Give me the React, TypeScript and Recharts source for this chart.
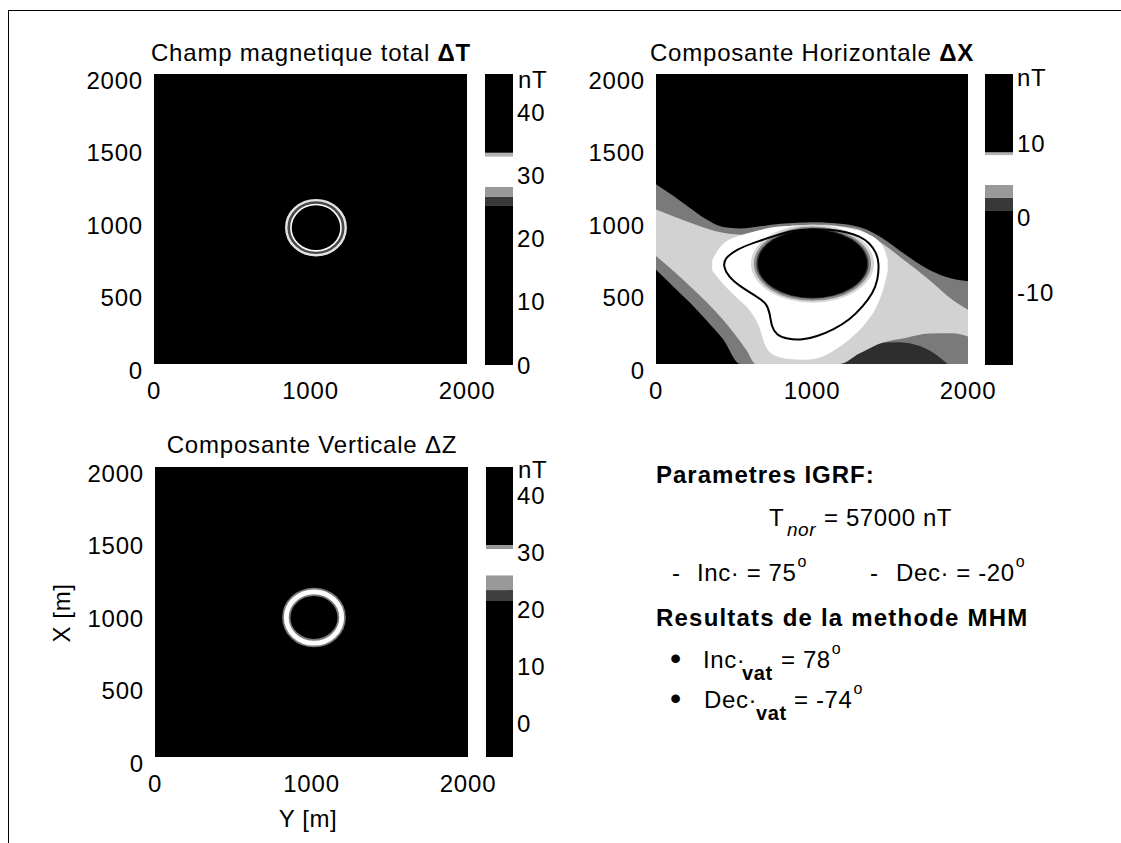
import React from 'react';
import { ComposedChart, XAxis, YAxis, CartesianGrid, Area, Line, Scatter } from 'recharts';

const FONT = '"Liberation Sans", Arial, Helvetica, sans-serif';

// axis ticks (metres)
const yTicks = [0, 500, 1000, 1500, 2000];
const xTicks = [0, 1000, 2000];

// colour bar ticks (nT)
const cbTicksT = [0, 10, 20, 30, 40];
const cbTicksX = [-10, 0, 10];
const cbTicksZ = [0, 10, 20, 30, 40];

// colour bar domains (nT)
const cbDomainT = [-0.95, 45.2];
const cbDomainX = [-20.6, 18.5];
const cbDomainZ = [-7, 43.9];

// colour map bands: from/to in nT, level = grey intensity 0..1
const cbBandsT = [
  { from: -0.95, to: 24.4, level: 0 },
  { from: 24.4, to: 25.7, level: 0.22 },
  { from: 25.7, to: 27.3, level: 0.6 },
  { from: 27.3, to: 32.1, level: 1 },
  { from: 32.1, to: 32.7, level: 0.7 },
  { from: 32.7, to: 45.2, level: 0 },
];
const cbBandsX = [
  { from: -20.6, to: 0.2, level: 0 },
  { from: 0.2, to: 1.9, level: 0.22 },
  { from: 1.9, to: 3.6, level: 0.6 },
  { from: 3.6, to: 7.6, level: 1 },
  { from: 7.6, to: 8.0, level: 0.7 },
  { from: 8.0, to: 18.5, level: 0 },
];
const cbBandsZ = [
  { from: -7, to: 20.5, level: 0 },
  { from: 20.5, to: 22.3, level: 0.25 },
  { from: 22.3, to: 24.9, level: 0.6 },
  { from: 24.9, to: 29.5, level: 1 },
  { from: 29.5, to: 30.2, level: 0.6 },
  { from: 30.2, to: 43.9, level: 0 },
];

// anomaly rings (centre and radii in metres)
const ringT = [{ x: 1035, y: 940, r1: 160, r2: 190 }];
const ringZ = [{ x: 1016, y: 962, r1: 160, r2: 194 }];

// Delta X map: zones, ranges [low, high] in metres
const haloOuterX = [
  { x: 0, r: [650, 1240] },
  { x: 110, r: [535, 1160] },
  { x: 220, r: [420, 1075] },
  { x: 320, r: [305, 1000] },
  { x: 430, r: [170, 945] },
  { x: 540, r: [0, 935] },
  { x: 600, r: [0, 940] },
  { x: 800, r: [0, 968] },
  { x: 1000, r: [0, 978] },
  { x: 1200, r: [0, 965] },
  { x: 1350, r: [0, 927] },
  { x: 1480, r: [0, 847] },
  { x: 1600, r: [0, 754] },
  { x: 1730, r: [0, 662] },
  { x: 1860, r: [0, 600] },
  { x: 2000, r: [0, 570] },
];
const darkPatchX = [
  { x: 1150, r: [0, 0] },
  { x: 1250, r: [0, 90] },
  { x: 1400, r: [0, 140] },
  { x: 1550, r: [0, 150] },
  { x: 1700, r: [0, 120] },
  { x: 1800, r: [0, 60] },
  { x: 1870, r: [0, 0] },
];
const haloMidX = [
  { x: 0, r: [745, 1065] },
  { x: 220, r: [535, 975] },
  { x: 430, r: [305, 905] },
  { x: 580, r: [95, 890] },
  { x: 640, r: [0, 890] },
  { x: 880, r: [0, 955] },
  { x: 1090, r: [0, 960] },
  { x: 1180, r: [0, 950] },
  { x: 1300, r: [70, 927] },
  { x: 1460, r: [150, 824] },
  { x: 1600, r: [180, 708] },
  { x: 1750, r: [210, 581] },
  { x: 1900, r: [212, 443] },
  { x: 2000, r: [190, 374] },
];
const whiteCoreX = [
  { x: 360, r: [645, 715] },
  { x: 400, r: [590, 790] },
  { x: 450, r: [530, 845] },
  { x: 520, r: [455, 880] },
  { x: 600, r: [370, 905] },
  { x: 660, r: [260, 922] },
  { x: 700, r: [130, 932] },
  { x: 760, r: [60, 945] },
  { x: 850, r: [35, 952] },
  { x: 950, r: [30, 955] },
  { x: 1050, r: [45, 955] },
  { x: 1150, r: [100, 950] },
  { x: 1250, r: [180, 932] },
  { x: 1350, r: [290, 900] },
  { x: 1420, r: [410, 855] },
  { x: 1460, r: [530, 800] },
  { x: 1485, r: [640, 720] },
];
// negative core of Delta X (centre + semi axes, metres)
const ovalX = [{ x: 1003, y: 692, a: 350, b: 235 }];
// zero contour of Delta X
const contourX = [
  { x: 1007, y: 932 }, { x: 879, y: 923 }, { x: 751, y: 881 }, { x: 623, y: 835 },
  { x: 516, y: 789 }, { x: 442, y: 731 }, { x: 431, y: 674 }, { x: 463, y: 604 },
  { x: 538, y: 535 }, { x: 644, y: 466 }, { x: 708, y: 420 }, { x: 730, y: 351 },
  { x: 740, y: 258 }, { x: 772, y: 201 }, { x: 837, y: 171 }, { x: 943, y: 166 },
  { x: 1029, y: 189 }, { x: 1135, y: 235 }, { x: 1242, y: 305 }, { x: 1327, y: 397 },
  { x: 1391, y: 489 }, { x: 1423, y: 581 }, { x: 1430, y: 697 }, { x: 1413, y: 766 },
  { x: 1370, y: 835 }, { x: 1306, y: 881 }, { x: 1221, y: 911 }, { x: 1114, y: 927 },
];

type Rect = { x: number; y: number; w: number; h: number };
type Band = { from: number; to: number; level: number };

const plotT: Rect = { x: 154, y: 74, w: 313, h: 290 };
const plotX: Rect = { x: 656, y: 74, w: 312, h: 290 };
const plotZ: Rect = { x: 155, y: 467, w: 313, h: 290 };
const barT: Rect = { x: 485, y: 74, w: 28, h: 291 };
const barX: Rect = { x: 985, y: 74, w: 28, h: 291 };
const barZ: Rect = { x: 486, y: 467, w: 27, h: 290 };

const YW = 70;
const XH = 50;
const MT = 10;
const MR = 40;

const tickFont = { fontFamily: FONT, fontSize: 24, letterSpacing: 0.8, fill: '#000' };

const grey = (level: number) => {
  const v = Math.round(level * 255);
  return `rgb(${v},${v},${v})`;
};

const YTick = (p: any) => (
  <text x={p.x} y={p.y + 6} dy="0.355em" textAnchor="end" {...tickFont}>
    {p.payload.value}
  </text>
);
const XTick = (p: any) => (
  <text x={p.x} y={p.y + 26} dy="0.355em" textAnchor="middle" {...tickFont}>
    {p.payload.value}
  </text>
);
const BarTick = (p: any) => (
  <text x={p.x} y={p.y + 6} dy="0.355em" textAnchor="start" {...tickFont}>
    {p.payload.value}
  </text>
);

function MapPanel({ rect, children }: { rect: Rect; children?: React.ReactNode }) {
  return (
    <div style={{ position: 'absolute', left: rect.x - YW, top: rect.y - MT }}>
      <ComposedChart
        width={rect.w + YW + MR}
        height={rect.h + MT + XH}
        margin={{ top: MT, right: MR, bottom: 0, left: 0 }}
      >
        <CartesianGrid fill="#000" stroke="none" horizontal={false} vertical={false} />
        <XAxis
          type="number"
          dataKey="x"
          domain={[0, 2000]}
          ticks={xTicks}
          interval={0}
          allowDataOverflow
          axisLine={false}
          tickLine={false}
          tickSize={0}
          tickMargin={0}
          height={XH}
          tick={XTick}
        />
        <YAxis
          type="number"
          dataKey="y"
          domain={[0, 2000]}
          ticks={yTicks}
          interval={0}
          allowDataOverflow
          axisLine={false}
          tickLine={false}
          tickSize={0}
          tickMargin={11}
          width={YW}
          tick={YTick}
        />
        {children}
      </ComposedChart>
    </div>
  );
}

function ColorBar({ rect, domain, ticks, bands }: { rect: Rect; domain: number[]; ticks: number[]; bands: Band[] }) {
  return (
    <div style={{ position: 'absolute', left: rect.x, top: rect.y - 10 }}>
      <ComposedChart width={rect.w + 60} height={rect.h + 40} margin={{ top: 10, right: 0, bottom: 30, left: 0 }}>
        <XAxis type="number" dataKey="x" domain={[0, 1]} hide />
        <YAxis
          type="number"
          orientation="right"
          domain={domain}
          ticks={ticks}
          interval={0}
          allowDataOverflow
          axisLine={false}
          tickLine={false}
          tickSize={0}
          tickMargin={4}
          width={60}
          tick={BarTick}
        />
        {bands.map((b, i) => (
          <Area
            key={i}
            data={[
              { x: 0, r: [b.from, b.to] },
              { x: 1, r: [b.from, b.to] },
            ]}
            dataKey="r"
            type="linear"
            stroke="none"
            fill={grey(b.level)}
            fillOpacity={1}
            dot={false}
            activeDot={false}
            isAnimationActive={false}
          />
        ))}
      </ComposedChart>
    </div>
  );
}

const ringShapeT = (rect: Rect) => (p: any) => {
  const kx = rect.w / 2000;
  const ky = rect.h / 2000;
  const { r1, r2 } = p.payload;
  const rm = (r1 + r2) / 2;
  return (
    <g>
      <ellipse cx={p.cx} cy={p.cy} rx={rm * kx} ry={rm * ky} fill="none" stroke="#4a4a4a" strokeWidth={(r2 - r1) * kx} />
      <ellipse cx={p.cx} cy={p.cy} rx={r2 * kx} ry={r2 * ky} fill="none" stroke="#e4e4e4" strokeWidth={2.4} />
      <ellipse cx={p.cx} cy={p.cy} rx={r1 * kx} ry={r1 * ky} fill="none" stroke="#ffffff" strokeWidth={1.6} />
    </g>
  );
};

const ringShapeZ = (rect: Rect) => (p: any) => {
  const kx = rect.w / 2000;
  const ky = rect.h / 2000;
  const { r1, r2 } = p.payload;
  const rm = (r1 + r2) / 2;
  return (
    <g>
      <ellipse cx={p.cx} cy={p.cy} rx={rm * kx} ry={rm * ky} fill="none" stroke="#7a7a7a" strokeWidth={(r2 - r1) * kx + 3} />
      <ellipse cx={p.cx} cy={p.cy} rx={rm * kx} ry={rm * ky} fill="none" stroke="#ffffff" strokeWidth={(r2 - r1) * kx - 0.5} />
    </g>
  );
};

const ovalShape = (rect: Rect) => (p: any) => {
  const kx = rect.w / 2000;
  const ky = rect.h / 2000;
  const rx = p.payload.a * kx;
  const ry = p.payload.b * ky;
  return (
    <g>
      <ellipse cx={p.cx} cy={p.cy} rx={rx + 7} ry={ry + 5} fill="#d6d6d6" />
      <ellipse cx={p.cx} cy={p.cy} rx={rx + 4} ry={ry + 3} fill="#8a8a8a" />
      <ellipse cx={p.cx} cy={p.cy} rx={rx + 1.5} ry={ry + 1} fill="#333" />
      <ellipse cx={p.cx} cy={p.cy} rx={rx} ry={ry} fill="#000" />
    </g>
  );
};

const txt: React.CSSProperties = {
  position: 'absolute',
  fontFamily: FONT,
  fontSize: 24,
  lineHeight: '28px',
  whiteSpace: 'nowrap',
  color: '#000',
  letterSpacing: 0.6,
};

const Title = ({ cx, cy, children }: { cx: number; cy: number; children: React.ReactNode }) => (
  <div style={{ ...txt, left: cx - 250, width: 500, top: cy - 14, textAlign: 'center', letterSpacing: 0.8 }}>{children}</div>
);

const Deg = () => (
  <span style={{ fontSize: 16, position: 'relative', top: -14, marginLeft: 1 }}>o</span>
);

export default function App() {
  return (
    <div style={{ position: 'relative', width: 1121, height: 843, background: '#fff', overflow: 'hidden' }}>
      <style>{`body{margin:0}`}</style>
      <div style={{ position: 'absolute', left: 8, top: 10, width: 1113, height: 833, borderTop: '1.5px solid #000', borderLeft: '1.5px solid #000' }} />

      <Title cx={311} cy={53}>
        Champ magnetique total <b>ΔT</b>
      </Title>
      <Title cx={812} cy={53}>
        Composante Horizontale <b>ΔX</b>
      </Title>
      <Title cx={312} cy={445}>
        Composante Verticale ΔZ
      </Title>

      <MapPanel rect={plotT}>
        <Scatter data={ringT} shape={ringShapeT(plotT)} isAnimationActive={false} />
      </MapPanel>

      <MapPanel rect={plotX}>
        <Area data={haloOuterX} dataKey="r" type="monotone" stroke="none" fill="#7a7a7a" fillOpacity={1} dot={false} activeDot={false} isAnimationActive={false} />
        <Area data={darkPatchX} dataKey="r" type="monotone" stroke="none" fill="#2e2e2e" fillOpacity={1} dot={false} activeDot={false} isAnimationActive={false} />
        <Area data={haloMidX} dataKey="r" type="monotone" stroke="none" fill="#d2d2d2" fillOpacity={1} dot={false} activeDot={false} isAnimationActive={false} />
        <Area data={whiteCoreX} dataKey="r" type="monotone" stroke="none" fill="#ffffff" fillOpacity={1} dot={false} activeDot={false} isAnimationActive={false} />
        <Scatter data={ovalX} shape={ovalShape(plotX)} isAnimationActive={false} />
        <Line data={contourX} dataKey="y" type="basisClosed" stroke="#000" strokeWidth={2} dot={false} activeDot={false} isAnimationActive={false} zIndex={700} />
      </MapPanel>

      <MapPanel rect={plotZ}>
        <Scatter data={ringZ} shape={ringShapeZ(plotZ)} isAnimationActive={false} />
      </MapPanel>

      <ColorBar rect={barT} domain={cbDomainT} ticks={cbTicksT} bands={cbBandsT} />
      <ColorBar rect={barX} domain={cbDomainX} ticks={cbTicksX} bands={cbBandsX} />
      <ColorBar rect={barZ} domain={cbDomainZ} ticks={cbTicksZ} bands={cbBandsZ} />

      <div style={{ ...txt, left: 518, top: 66 }}>nT</div>
      <div style={{ ...txt, left: 1017, top: 64 }}>nT</div>
      <div style={{ ...txt, left: 518, top: 456 }}>nT</div>

      <div style={{ ...txt, left: 12, width: 100, top: 613 - 14, textAlign: 'center', transform: 'rotate(-90deg)' }}>X [m]</div>
      <div style={{ ...txt, left: 258, width: 100, top: 819 - 14, textAlign: 'center' }}>Y [m]</div>

      {/* text block */}
      <div style={{ ...txt, left: 656, top: 461, fontWeight: 'bold', letterSpacing: 1 }}>Parametres IGRF:</div>
      <div style={{ ...txt, left: 769, top: 504 }}>T</div>
      <div style={{ ...txt, left: 787, top: 519, fontSize: 19, lineHeight: '22px', fontStyle: 'italic', letterSpacing: 0.5 }}>nor</div>
      <div style={{ ...txt, left: 824, top: 504 }}>= 57000 nT</div>

      <div style={{ ...txt, left: 672, top: 559 }}>-</div>
      <div style={{ ...txt, left: 697, top: 559 }}>
        Inc· = 75<Deg />
      </div>
      <div style={{ ...txt, left: 870, top: 559 }}>-</div>
      <div style={{ ...txt, left: 896, top: 559 }}>
        Dec· = -20<Deg />
      </div>

      <div style={{ ...txt, left: 656, top: 604, fontWeight: 'bold', letterSpacing: 1.2 }}>Resultats de la methode MHM</div>

      <div style={{ ...txt, left: 670, top: 640, fontSize: 32, lineHeight: '36px' }}>•</div>
      <div style={{ ...txt, left: 703, top: 646 }}>Inc·</div>
      <div style={{ ...txt, left: 742, top: 661, fontSize: 20, lineHeight: '24px', fontWeight: 'bold' }}>vat</div>
      <div style={{ ...txt, left: 781, top: 646 }}>
        = 78<Deg />
      </div>

      <div style={{ ...txt, left: 670, top: 680, fontSize: 32, lineHeight: '36px' }}>•</div>
      <div style={{ ...txt, left: 704, top: 686 }}>Dec·</div>
      <div style={{ ...txt, left: 756, top: 701, fontSize: 20, lineHeight: '24px', fontWeight: 'bold' }}>vat</div>
      <div style={{ ...txt, left: 794, top: 686 }}>
        = -74<Deg />
      </div>
    </div>
  );
}
